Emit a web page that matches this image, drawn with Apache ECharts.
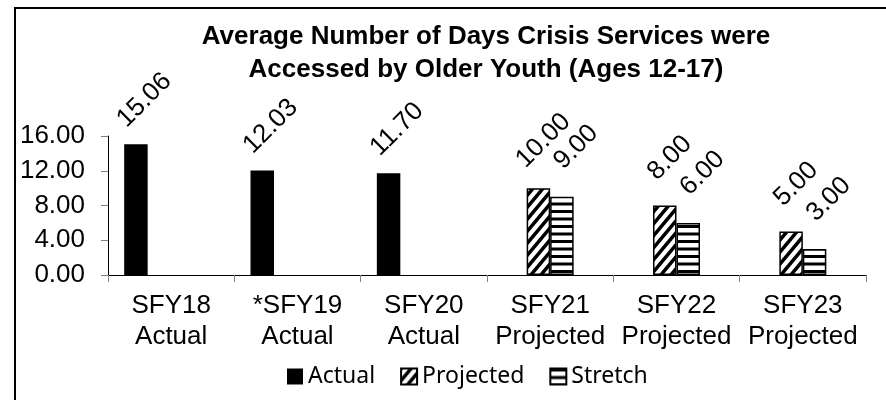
<!DOCTYPE html>
<html>
<head>
<meta charset="utf-8">
<script src="https://cdn.jsdelivr.net/npm/echarts@6/dist/echarts.min.js"></script>
<style>
  html, body { margin: 0; padding: 0; background: #fff; }
  #chart { width: 886px; height: 400px; }
</style>
</head>
<body>
<div id="chart"></div>
<script>
// data
const categories = ['SFY18\nActual', '*SFY19\nActual', 'SFY20\nActual', 'SFY21\nProjected', 'SFY22\nProjected', 'SFY23\nProjected'];
const actualValues = [15.06, 12.03, 11.70, null, null, null];
const projectedValues = [null, null, null, 10.00, 8.00, 5.00];
const stretchValues = [null, null, null, 9.00, 6.00, 3.00];
const yMin = 0, yMax = 16, yStep = 4;

// black/white fill patterns (Excel style)
function diagonalPattern() {
  const w = 10, h = 12;
  const c = document.createElement('canvas');
  c.width = w; c.height = h;
  const ctx = c.getContext('2d');
  ctx.fillStyle = '#fff';
  ctx.fillRect(0, 0, w, h);
  ctx.strokeStyle = '#000';
  ctx.lineWidth = 3.5;
  ctx.beginPath();
  for (let k = -1; k <= 1; k++) {
    ctx.moveTo(k * w - w, 2 * h);
    ctx.lineTo(k * w + 2 * w, -h);
  }
  ctx.stroke();
  return c;
}
function stripePattern() {
  const c = document.createElement('canvas');
  c.width = 8; c.height = 15;
  const ctx = c.getContext('2d');
  ctx.fillStyle = '#fff';
  ctx.fillRect(0, 0, 8, 15);
  ctx.fillStyle = '#000';
  ctx.fillRect(0, 0, 8, 3);
  ctx.fillRect(0, 7.5, 8, 3);
  return c;
}

const chart = echarts.init(document.getElementById('chart'));

// rotated value label; offset is in the label's own (rotated) frame
function barLabel(offset) {
  return {
    show: true,
    position: 'top',
    distance: 44,
    rotate: 45,
    align: 'center',
    verticalAlign: 'middle',
    offset: offset,
    fontFamily: 'Liberation Sans',
    fontSize: 26,
    color: '#000',
    formatter: p => p.value.toFixed(2)
  };
}

const option = {
  animation: false,
  backgroundColor: '#fff',
  title: {
    text: 'Average Number of Days Crisis Services were\nAccessed by Older Youth (Ages 12-17)',
    left: 486,
    top: 20,
    padding: 0,
    textAlign: 'center',
    textStyle: {
      fontFamily: 'Liberation Sans',
      fontWeight: 'bold',
      fontSize: 26,
      lineHeight: 33,
      color: '#000'
    }
  },
  graphic: [{
    type: 'rect',
    shape: { x: 15, y: 8, width: 900, height: 420 },
    style: { fill: 'none', stroke: '#000', lineWidth: 2 },
    silent: true
  }],
  legend: {
    data: ['Actual', 'Projected', 'Stretch'],
    left: 282,
    top: 360,
    itemWidth: 16,
    itemHeight: 16,
    itemGap: 25,
    icon: 'rect',
    textStyle: { fontFamily: 'Noto Sans', fontSize: 23, color: '#000' }
  },
  grid: {
    left: 108, right: 20, top: 136, bottom: 125,
    outerBoundsMode: 'none'
  },
  xAxis: {
    type: 'category',
    data: categories,
    axisLine: { lineStyle: { color: '#000', width: 1 } },
    axisTick: { show: true, length: 7, lineStyle: { color: '#808080' } },
    axisLabel: {
      interval: 0,
      margin: 15,
      fontFamily: 'Liberation Sans',
      fontSize: 26,
      lineHeight: 31,
      color: '#000'
    },
    splitLine: { show: false }
  },
  yAxis: {
    type: 'value',
    min: yMin,
    max: yMax,
    interval: yStep,
    axisLine: { show: true, lineStyle: { color: '#000', width: 1 } },
    axisTick: { show: true, length: 7, lineStyle: { color: '#808080' } },
    axisLabel: {
      margin: 23,
      fontFamily: 'Liberation Sans',
      fontSize: 26,
      color: '#000',
      formatter: v => v.toFixed(2)
    },
    splitLine: { show: false }
  },
  series: [
    {
      name: 'Actual',
      type: 'bar',
      data: actualValues,
      barWidth: 23.5,
      barGap: '0%',
      itemStyle: { color: '#000' },
      label: barLabel([6, 6])
    },
    {
      name: 'Projected',
      type: 'bar',
      data: projectedValues,
      barWidth: 23.5,
      barGap: '0%',
      itemStyle: { color: { image: diagonalPattern(), repeat: 'repeat' }, borderColor: '#000', borderWidth: 1.5 },
      label: barLabel([6, 1])
    },
    {
      name: 'Stretch',
      type: 'bar',
      data: stretchValues,
      barWidth: 23.5,
      barGap: '0%',
      itemStyle: { color: { image: stripePattern(), repeat: 'repeat' }, borderColor: '#000', borderWidth: 1.5 },
      label: barLabel([14, 6])
    },
    {
      // empty slot kept by Excel's layout (fourth, hidden series)
      name: 'spacer',
      type: 'bar',
      data: [],
      barWidth: 23.5,
      barGap: '0%'
    }
  ]
};

chart.setOption(option);
</script>
</body>
</html>
